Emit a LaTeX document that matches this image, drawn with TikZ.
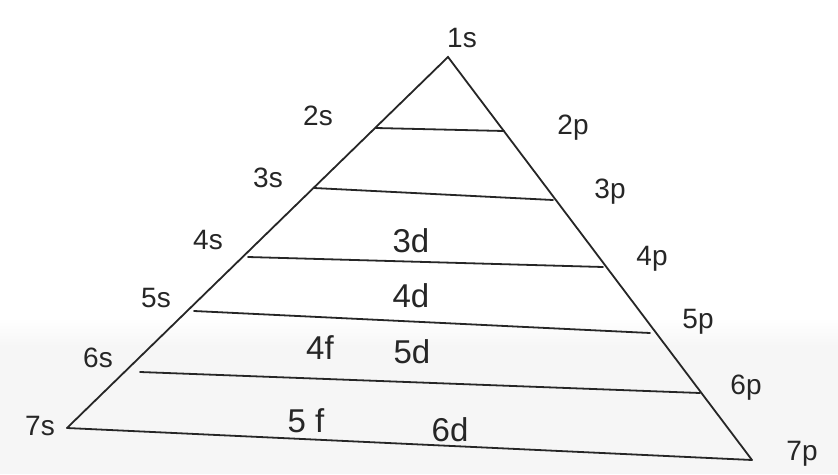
\documentclass[tikz,border=0pt]{standalone}
\usepackage{fontspec}
\setmainfont{Liberation Sans}
\begin{document}
\begin{tikzpicture}[x=1pt,y=-1pt,
  edge/.style={line width=1.8pt,black!85,line cap=round},
  lbl/.style={font=\fontsize{33}{35}\selectfont,inner sep=0pt,text=black!85},
  slbl/.style={font=\fontsize{28}{30}\selectfont,inner sep=0pt,text=black!85}]
\useasboundingbox (0,0) rectangle (838,474);
\fill[white] (0,0) rectangle (838,474);
\fill[gray!7] (0,345) rectangle (838,474);
\shade[top color=white,bottom color=gray!7] (0,318) rectangle (838,346);
% vertices
\coordinate (apex) at (448,57);
\coordinate (bl) at (67,428);
\coordinate (br) at (752,460);
\draw[edge] (bl) -- (apex) -- (br);
\draw[edge] (bl) -- (br);
% level lines
\coordinate (l2) at (376,128); \coordinate (r2) at (504,131);
\coordinate (l3) at (314,188); \coordinate (r3) at (553,200);
\coordinate (l4) at (248,257); \coordinate (r4) at (603,267);
\coordinate (l5) at (194,311); \coordinate (r5) at (650,333);
\coordinate (l6) at (140,372); \coordinate (r6) at (700,393);
\draw[edge] (l2) -- (r2);
\draw[edge] (l3) -- (r3);
\draw[edge] (l4) -- (r4);
\draw[edge] (l5) -- (r5);
\draw[edge] (l6) -- (r6);
% labels
\node[slbl] (s1) at (462,38) {1s};
\node[slbl] (s2) at (318,116) {2s};
\node[slbl] (s3) at (268,178) {3s};
\node[slbl] (s4) at (208,240) {4s};
\node[slbl] (s5) at (156,298) {5s};
\node[slbl] (s6) at (98,358) {6s};
\node[slbl] (s7) at (40,426) {7s};
\node[slbl] (p2) at (573,128) {2p};
\node[slbl] (p3) at (610,192) {3p};
\node[slbl] (p4) at (652,259) {4p};
\node[slbl] (p5) at (698,322) {5p};
\node[slbl] (p6) at (746,388) {6p};
\node[slbl] (p7) at (802,454) {7p};
\node[lbl] (d3) at (411,241) {3d};
\node[lbl] (d4) at (411,296) {4d};
\node[lbl] (f4) at (320,348) {4f};
\node[lbl] (d5) at (412,352) {5d};
\node[lbl] (f5) at (306,421) {5 f};
\node[lbl] (d6) at (450,430) {6d};
\end{tikzpicture}
\end{document}
